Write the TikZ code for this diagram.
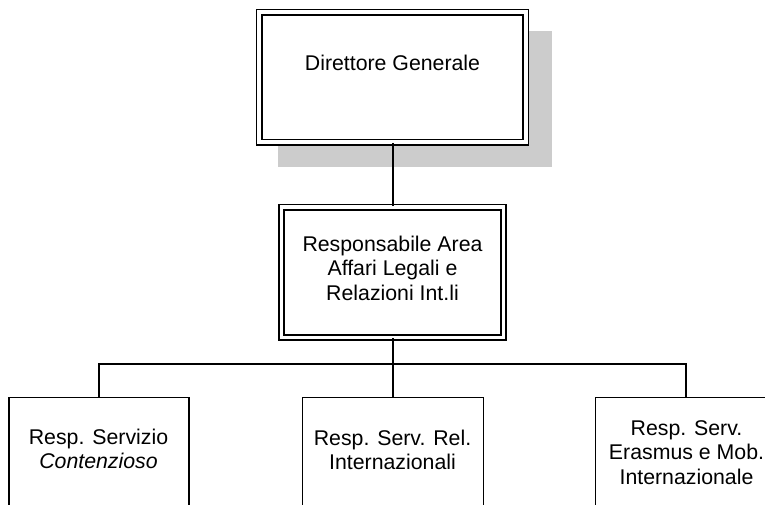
\documentclass[tikz,border=0pt]{standalone}
\usepackage{fontspec}
\setmainfont{Liberation Sans}
\definecolor{shadowgray}{HTML}{CCCCCC}
\begin{document}
\begin{tikzpicture}[x=1pt,y=-1pt,
  box/.style={draw, line width=1.7pt, fill=white, inner sep=0pt},
  dbox/.style={box, double=white, double distance=3.6pt},
  lbl/.style={font=\fontsize{21.3}{24.5}\selectfont, align=center, inner sep=0pt, anchor=base},
  wire/.style={line width=1.8pt}]
\useasboundingbox (0,0) rectangle (765,504);
\clip (0,0) rectangle (765,504);
% shadow of top box
\fill[shadowgray] (278,31) rectangle (552,167);
% boxes
\node[dbox, minimum width=266.5pt, minimum height=130pt] (top) at (392.5,77) {};
\node[dbox, minimum width=222pt, minimum height=130.5pt] (mid) at (392.5,272.25) {};
\node[box, minimum width=180pt, minimum height=134pt, anchor=north] (b1) at (99,396.5) {};
\node[box, minimum width=181pt, minimum height=134pt, anchor=north] (b2) at (393,396.5) {};
\node[box, minimum width=181pt, minimum height=134pt, anchor=north] (b3) at (686,396.5) {};
% texts (base anchor = baseline of the last line)
\node[lbl] (t0) at (392.5,70) {Direttore Generale};
\node[lbl] (t1) at (392.5,300) {Responsabile Area\\Affari Legali e\\Relazioni Int.li};
\node[lbl] (t2) at (98.5,468.5) {Resp. Servizio\\\textit{Contenzioso}};
\node[lbl] (t3) at (392.5,469.5) {Resp. Serv. Rel.\\Internazionali};
\node[lbl] (t4) at (686.5,484) {Resp. Serv.\\Erasmus e Mob.\\Internazionale};
% connectors
\coordinate (bus) at (393,364);
\draw[wire] (top.south -| bus) -- (mid.north -| bus);
\draw[wire] (mid.south -| bus) -- (bus);
\draw[wire] (b1.north) -- (b1.north |- bus) -- (b3.north |- bus) -- (b3.north);
\draw[wire] (b2.north) -- (bus);
\end{tikzpicture}
\end{document}
